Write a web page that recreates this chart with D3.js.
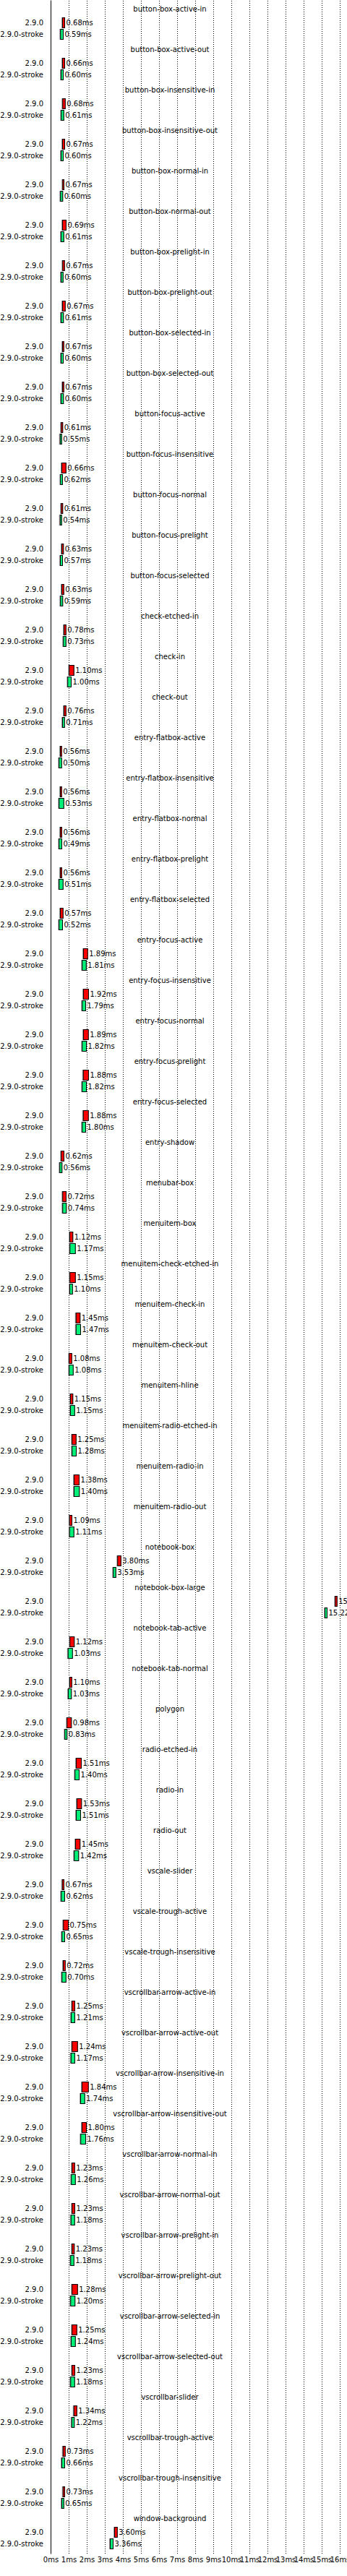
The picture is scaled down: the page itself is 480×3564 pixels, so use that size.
<!DOCTYPE html>
<html>
<head>
<meta charset="utf-8">
<script src="https://cdn.jsdelivr.net/npm/d3@7"></script>
<style>
  body { margin: 0; background: #fff; }
  svg { display: block; font-family: "DejaVu Sans", sans-serif; font-size: 10px; }
  .grid line { stroke: #000; stroke-dasharray: 1,2; }
  .grid .domain { display: none; }
  .y.axis .domain { stroke: #000; }
</style>
</head>
<body>
<div class="chart"></div>
<script>
const tests = [
  "button-box-active-in", "button-box-active-out", "button-box-insensitive-in", "button-box-insensitive-out",
  "button-box-normal-in", "button-box-normal-out", "button-box-prelight-in", "button-box-prelight-out",
  "button-box-selected-in", "button-box-selected-out", "button-focus-active", "button-focus-insensitive",
  "button-focus-normal", "button-focus-prelight", "button-focus-selected", "check-etched-in",
  "check-in", "check-out", "entry-flatbox-active", "entry-flatbox-insensitive",
  "entry-flatbox-normal", "entry-flatbox-prelight", "entry-flatbox-selected", "entry-focus-active",
  "entry-focus-insensitive", "entry-focus-normal", "entry-focus-prelight", "entry-focus-selected",
  "entry-shadow", "menubar-box", "menuitem-box", "menuitem-check-etched-in",
  "menuitem-check-in", "menuitem-check-out", "menuitem-hline", "menuitem-radio-etched-in",
  "menuitem-radio-in", "menuitem-radio-out", "notebook-box", "notebook-box-large",
  "notebook-tab-active", "notebook-tab-normal", "polygon", "radio-etched-in",
  "radio-in", "radio-out", "vscale-slider", "vscale-trough-active",
  "vscale-trough-insensitive", "vscrollbar-arrow-active-in", "vscrollbar-arrow-active-out", "vscrollbar-arrow-insensitive-in",
  "vscrollbar-arrow-insensitive-out", "vscrollbar-arrow-normal-in", "vscrollbar-arrow-normal-out", "vscrollbar-arrow-prelight-in",
  "vscrollbar-arrow-prelight-out", "vscrollbar-arrow-selected-in", "vscrollbar-arrow-selected-out", "vscrollbar-slider",
  "vscrollbar-trough-active", "vscrollbar-trough-insensitive", "window-background"
];

const versions = [ "2.9.0", "2.9.0-stroke" ];

// mean time per test (ms)
const plainMean = [0.68,0.66,0.68,0.67,0.67,0.69,0.67,0.67,0.67,0.67,0.61,0.66,0.61,0.63,0.63,0.78,1.10,0.76,0.56,0.56,
  0.56,0.56,0.57,1.89,1.92,1.89,1.88,1.88,0.62,0.72,1.12,1.15,1.45,1.08,1.15,1.25,1.38,1.09,3.80,15.80,
  1.12,1.10,0.98,1.51,1.53,1.45,0.67,0.75,0.72,1.25,1.24,1.84,1.80,1.23,1.23,1.23,1.28,1.25,1.23,1.34,
  0.73,0.73,3.60];
const plainLow = [0.64,0.64,0.65,0.64,0.65,0.64,0.65,0.64,0.64,0.64,0.57,0.60,0.57,0.60,0.60,0.72,1.01,0.72,0.52,0.52,
  0.52,0.52,0.52,1.80,1.80,1.80,1.79,1.79,0.57,0.65,1.04,1.05,1.39,1.01,1.08,1.17,1.28,1.03,3.69,15.73,
  1.05,1.04,0.89,1.40,1.44,1.36,0.63,0.69,0.68,1.17,1.17,1.72,1.72,1.17,1.17,1.17,1.17,1.17,1.17,1.27,
  0.67,0.67,3.52];
const plainHigh = [0.80,0.80,0.83,0.80,0.76,0.88,0.79,0.83,0.75,0.75,0.69,0.87,0.69,0.73,0.75,0.87,1.31,0.87,0.63,0.63,
  0.64,0.64,0.71,2.07,2.12,2.11,2.12,2.11,0.76,0.88,1.25,1.39,1.65,1.19,1.25,1.43,1.60,1.20,3.91,15.87,
  1.33,1.19,1.17,1.72,1.73,1.65,0.76,1.00,0.83,1.36,1.51,2.11,2.00,1.35,1.36,1.33,1.51,1.47,1.36,1.47,
  0.83,0.80,3.71];

const strokeMean = [0.59,0.60,0.61,0.60,0.60,0.61,0.60,0.61,0.60,0.60,0.55,0.62,0.54,0.57,0.59,0.73,1.00,0.71,0.50,0.53,
  0.49,0.51,0.52,1.81,1.79,1.82,1.82,1.80,0.56,0.74,1.17,1.10,1.47,1.08,1.15,1.28,1.40,1.11,3.53,15.22,
  1.03,1.03,0.83,1.40,1.51,1.42,0.62,0.65,0.70,1.21,1.17,1.74,1.76,1.26,1.18,1.18,1.20,1.24,1.18,1.22,
  0.66,0.65,3.36];
const strokeLow = [0.53,0.56,0.57,0.56,0.53,0.56,0.56,0.56,0.56,0.56,0.51,0.53,0.51,0.52,0.53,0.69,0.93,0.64,0.45,0.45,
  0.45,0.45,0.45,1.73,1.73,1.73,1.73,1.73,0.49,0.65,1.05,1.04,1.39,1.01,1.08,1.17,1.28,1.03,3.45,15.16,
  0.95,0.96,0.77,1.33,1.40,1.29,0.57,0.61,0.61,1.12,1.11,1.64,1.65,1.13,1.11,1.09,1.09,1.12,1.09,1.15,
  0.60,0.60,3.28];
const strokeHigh = [0.72,0.72,0.75,0.72,0.69,0.75,0.71,0.73,0.72,0.73,0.63,0.68,0.63,0.68,0.69,0.87,1.16,0.79,0.63,0.75,
  0.64,0.71,0.68,1.99,1.96,2.00,2.00,1.96,0.65,0.89,1.39,1.23,1.68,1.27,1.35,1.44,1.61,1.31,3.63,15.32,
  1.23,1.17,0.93,1.60,1.68,1.57,0.80,0.80,0.87,1.36,1.36,1.91,1.96,1.39,1.35,1.31,1.37,1.39,1.35,1.33,
  0.80,0.75,3.48];

const xTicks = d3.range(0, 17);

const colors = [ "#ff0000", "#00f078" ];

const width = 480;
const height = 3564;
const margin = { top: 0, left: 70 };
const groupHeight = 56;
const plotHeight = tests.length * groupHeight + 5;

const svg = d3.select( ".chart" )
  .append( "svg" )
    .attr( "width", width )
    .attr( "height", height );

const xScale = d3.scaleLinear()
  .domain( [ 0, 16 ] )
  .range( [ margin.left, margin.left + 400 ] );

const yScale = d3.scaleBand()
  .domain( tests )
  .range( [ 0, tests.length * groupHeight ] );

const rowScale = d3.scaleBand()
  .domain( versions )
  .range( [ 24, 56 ] );

// dotted grid + tick labels
svg.append( "g" )
  .attr( "class", "grid" )
  .attr( "transform", `translate(0, ${ plotHeight })` )
  .call( d3.axisBottom( xScale )
    .tickValues( xTicks )
    .tickSize( -plotHeight )
    .tickPadding( 5 )
    .tickFormat( d => d + "ms" ) )
  .call( g => g.selectAll( "text" ).attr( "fill", "#000" ).style( "font-size", "10px" ).style( "font-family", "DejaVu Sans" ) )
  .call( g => g.selectAll( ".tick:first-child line" ).remove() );

// vertical axis line
svg.append( "g" )
  .attr( "class", "y axis" )
  .attr( "transform", `translate(${ margin.left }, 0)` )
  .call( d3.axisLeft( d3.scaleLinear().range( [ 0, plotHeight ] ) ).ticks( 0 ).tickSizeOuter( 0 ) );

const data = tests.map( ( t, i ) => ( {
  test: t,
  runs: [
    { version: versions[0], mean: plainMean[i], low: plainLow[i], high: plainHigh[i], color: colors[0] },
    { version: versions[1], mean: strokeMean[i], low: strokeLow[i], high: strokeHigh[i], color: colors[1] }
  ]
} ) );

const group = svg.selectAll( "g.test" )
  .data( data )
  .enter()
    .append( "g" )
    .attr( "class", "test" )
    .attr( "transform", d => `translate(0, ${ yScale( d.test ) })` );

group.append( "text" )
  .attr( "x", 235 )
  .attr( "y", 12 )
  .attr( "dy", ".35em" )
  .attr( "text-anchor", "middle" )
  .text( d => d.test );

const run = group.selectAll( "g.run" )
  .data( d => d.runs )
  .enter()
    .append( "g" )
    .attr( "class", "run" )
    .attr( "transform", d => `translate(0, ${ rowScale( d.version ) })` );

run.append( "text" )
  .attr( "x", 60 )
  .attr( "y", rowScale.bandwidth() / 2 - 0.5 )
  .attr( "dy", ".35em" )
  .attr( "text-anchor", "end" )
  .text( d => d.version );

run.append( "rect" )
  .attr( "x", d => xScale( d.low ) - 1 )
  .attr( "y", 0 )
  .attr( "width", d => xScale( d.high ) - xScale( d.low ) + 1 )
  .attr( "height", rowScale.bandwidth() - 1 )
  .attr( "fill", "#999" );

run.append( "rect" )
  .attr( "x", d => xScale( d.low ) + 0.5 )
  .attr( "y", 0.5 )
  .attr( "width", d => Math.max( 1, xScale( d.high ) - xScale( d.low ) - 1 ) )
  .attr( "height", rowScale.bandwidth() - 2 )
  .attr( "fill", d => d.color )
  .attr( "stroke", "#000" );

run.append( "text" )
  .attr( "x", d => xScale( d.high ) + 1.5 )
  .attr( "y", rowScale.bandwidth() / 2 - 0.5 )
  .attr( "dy", ".35em" )
  .text( d => d.mean.toFixed( 2 ) + "ms" );
</script>
</body>
</html>
